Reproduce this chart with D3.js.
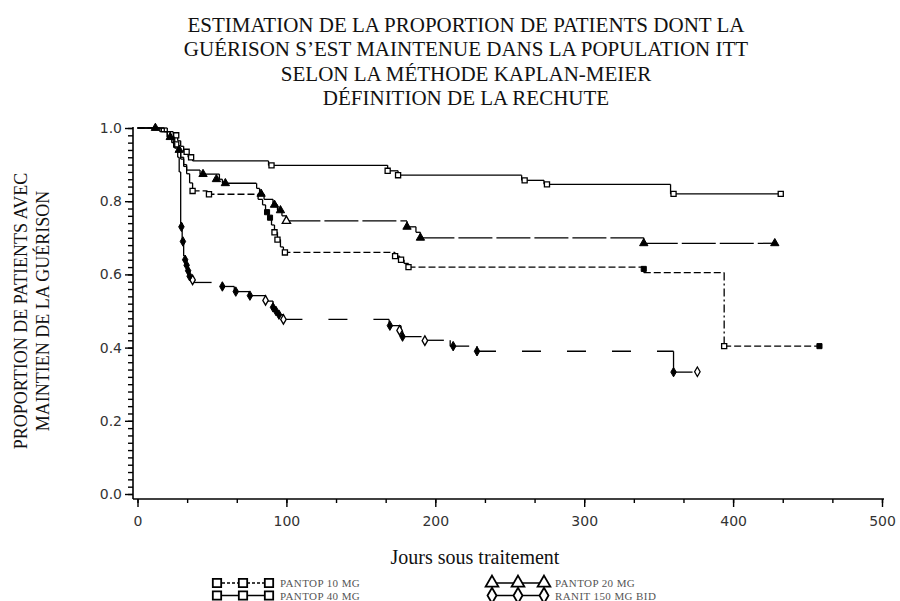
<!DOCTYPE html>
<html>
<head>
<meta charset="utf-8">
<script src="https://cdn.jsdelivr.net/npm/d3@7/dist/d3.min.js"></script>
<style>
  body { margin: 0; background: #fff; }
  text { fill: #111; }
</style>
</head>
<body>
<svg id="chart" width="900" height="601"></svg>
<script>
// Kaplan-Meier steps: day of each step and estimate from that day on (last entry = end of curve)
var pantop40Times = [0, 20, 24, 27, 29, 31, 34, 37, 88, 168, 175, 258, 273, 358, 432];
var pantop40Surv  = [1.0, 0.99, 0.98, 0.965, 0.95, 0.935, 0.92, 0.91, 0.898, 0.883, 0.871, 0.857, 0.846, 0.82, 0.82];
var pantop40Open  = [[26, 0.98], [33, 0.935], [36, 0.92], [90, 0.898], [168, 0.883], [175, 0.871], [260, 0.857], [275, 0.846], [360, 0.82], [432, 0.82]];
var pantop40Fill  = [];

var pantop20Times = [0, 15, 20, 24, 27, 29, 31, 33, 42, 55, 57, 80, 82, 85, 91, 94, 97, 100, 181, 187, 190, 340, 428];
var pantop20Surv  = [1.0, 0.99, 0.975, 0.96, 0.94, 0.92, 0.9, 0.885, 0.874, 0.86, 0.849, 0.835, 0.82, 0.805, 0.79, 0.775, 0.76, 0.746, 0.73, 0.715, 0.7, 0.685, 0.685];
var pantop20Open  = [[100, 0.746]];
var pantop20Fill  = [[12, 1.0], [22, 0.975], [28, 0.94], [44, 0.874], [53, 0.86], [59, 0.849], [83, 0.82], [92, 0.79], [96, 0.775], [181, 0.73], [190, 0.70], [340, 0.685], [428, 0.685]];

var pantop10Times = [0, 18, 22, 25, 27, 29, 31, 33, 35, 37, 47, 81, 84, 86, 88, 90, 92, 94, 96, 98, 173, 176, 179, 182, 340, 394, 458];
var pantop10Surv  = [1.0, 0.99, 0.975, 0.955, 0.935, 0.915, 0.895, 0.875, 0.85, 0.828, 0.819, 0.805, 0.79, 0.77, 0.755, 0.735, 0.715, 0.695, 0.675, 0.66, 0.65, 0.64, 0.63, 0.62, 0.605, 0.404, 0.404];
var pantop10Open  = [[26, 0.955], [37, 0.828], [48, 0.819], [92, 0.715], [94, 0.695], [99, 0.66], [173, 0.65], [177, 0.64], [182, 0.62], [394, 0.404]];
var pantop10Fill  = [[87, 0.77], [89, 0.755], [340, 0.615], [458, 0.404]];

var ranitTimes = [0, 16, 20, 23, 25, 27, 28, 29, 30, 31, 32, 33, 34, 35, 37, 57, 65, 75, 86, 91, 93, 95, 98, 169, 177, 178, 193, 210, 228, 360, 376];
var ranitSurv  = [1.0, 0.99, 0.975, 0.96, 0.945, 0.92, 0.88, 0.74, 0.69, 0.65, 0.635, 0.62, 0.605, 0.59, 0.578, 0.567, 0.553, 0.542, 0.527, 0.51, 0.5, 0.49, 0.477, 0.46, 0.445, 0.43, 0.42, 0.404, 0.39, 0.333, 0.333];
var ranitOpen  = [[37, 0.585], [86, 0.529], [98, 0.477], [176, 0.447], [193, 0.419], [376, 0.334]];
var ranitFill  = [[29.5, 0.73], [30.5, 0.69], [32, 0.64], [33, 0.625], [34, 0.61], [35, 0.595], [57, 0.567], [66, 0.553], [75.5, 0.542], [91, 0.51], [93, 0.5], [95, 0.49], [169.5, 0.46], [178, 0.43], [212, 0.404], [228, 0.39], [360, 0.333]];

var titleLines = ["ESTIMATION DE LA PROPORTION DE PATIENTS DONT LA",
                  "GUÉRISON S\u2019EST MAINTENUE DANS LA POPULATION ITT",
                  "SELON LA MÉTHODE KAPLAN-MEIER",
                  "DÉFINITION DE LA RECHUTE"];
var yTitleLines = ["PROPORTION DE PATIENTS AVEC", "MAINTIEN DE LA GUÉRISON"];
var xTitle = "Jours sous traitement";
var xTicks = [0, 100, 200, 300, 400, 500];
var yTicks = [0, 0.2, 0.4, 0.6, 0.8, 1.0];

var series = [
  {name: "PANTOP 40 MG", times: pantop40Times, surv: pantop40Surv, open: pantop40Open, fill: pantop40Fill, dash: null, symbol: d3.symbolSquare},
  {name: "PANTOP 20 MG", times: pantop20Times, surv: pantop20Surv, open: pantop20Open, fill: pantop20Fill, dash: "34,4", symbol: d3.symbolTriangle},
  {name: "PANTOP 10 MG", times: pantop10Times, surv: pantop10Surv, open: pantop10Open, fill: pantop10Fill, dash: "7,3", symbol: d3.symbolSquare},
  {name: "RANIT 150 MG BID", times: ranitTimes, surv: ranitSurv, open: ranitOpen, fill: ranitFill, dash: "19,26", symbol: d3.symbolDiamond}
];

var svg = d3.select("#chart");
var axisX0 = 133, axisY0 = 499;   // axis lines sit a little outside the data origin

var x = d3.scaleLinear().domain([0, 500]).range([137.5, 882]);
var y = d3.scaleLinear().domain([0, 1]).range([494, 128]);

// title
svg.append("g").selectAll("text")
  .data(titleLines).enter().append("text")
    .attr("x", 466)
    .attr("y", (d, i) => 32 + i * 24.3)
    .attr("text-anchor", "middle")
    .style("font-family", "Liberation Serif, Times New Roman, serif")
    .style("font-size", "21px")
    .text(d => d);

// y axis: minor ticks then major ticks
var yMinor = d3.axisLeft(y).tickValues(d3.range(0, 1.001, 0.02)).tickSize(5).tickFormat("");
var yMajor = d3.axisLeft(y).tickValues(yTicks).tickSize(8).tickPadding(3).tickFormat(d3.format(".1f"));
var gy = svg.append("g").attr("transform", "translate(" + axisX0 + ",0)");
gy.append("g").call(yMinor);
gy.append("g").call(yMajor);
gy.selectAll(".domain").remove();
gy.append("line").attr("x1", 0).attr("x2", 0).attr("y1", y(1) - 1).attr("y2", axisY0)
  .attr("stroke", "#000").attr("stroke-width", 1.6);

// x axis
var xMinor = d3.axisBottom(x).tickValues(d3.range(0, 501, 100 / 3)).tickSize(4).tickFormat("");
var xMajor = d3.axisBottom(x).tickValues(xTicks).tickSize(8).tickPadding(9).tickFormat(d3.format("d"));
var gx = svg.append("g").attr("transform", "translate(0," + axisY0 + ")");
gx.append("g").call(xMinor);
gx.append("g").call(xMajor);
gx.selectAll(".domain").remove();
gx.append("line").attr("x1", axisX0).attr("x2", 884).attr("y1", 0).attr("y2", 0)
  .attr("stroke", "#000").attr("stroke-width", 1.6);

svg.selectAll(".tick line").attr("stroke", "#000").attr("stroke-width", 1.4);
svg.selectAll(".tick text")
  .style("font-family", "DejaVu Sans, Verdana, sans-serif")
  .style("font-size", "14px")
  .style("fill", "#333");

// axis titles
svg.append("g").selectAll("text")
  .data(yTitleLines).enter().append("text")
    .attr("transform", (d, i) => "translate(" + (27 + i * 22) + ",311) rotate(-90)")
    .attr("text-anchor", "middle")
    .style("font-family", "Liberation Serif, Times New Roman, serif")
    .style("font-size", "18px")
    .text(d => d);

svg.append("text")
  .attr("x", 475).attr("y", 564)
  .attr("text-anchor", "middle")
  .style("font-family", "Liberation Serif, Times New Roman, serif")
  .style("font-size", "20px")
  .text(xTitle);

// curves: each horizontal stretch restarts its dash pattern, verticals solid (big drop dash-dot)
var plot = svg.append("g");
series.forEach(function(s) {
  var g = plot.append("g");
  for (var i = 0; i < s.times.length - 1; i++) {
    g.append("line")
      .attr("x1", x(s.times[i])).attr("x2", x(s.times[i + 1]))
      .attr("y1", y(s.surv[i])).attr("y2", y(s.surv[i]))
      .attr("stroke", "#000").attr("stroke-width", 1.3)
      .attr("stroke-dasharray", s.dash);
    if (s.surv[i + 1] !== s.surv[i]) {
      var drop = s.surv[i] - s.surv[i + 1];
      g.append("line")
        .attr("x1", x(s.times[i + 1])).attr("x2", x(s.times[i + 1]))
        .attr("y1", y(s.surv[i])).attr("y2", y(s.surv[i + 1]))
        .attr("stroke", "#000").attr("stroke-width", 1.3)
        .attr("stroke-dasharray", drop > 0.15 ? "8,3,2,3" : null);
    }
  }
  var sym = d3.symbol().type(s.symbol).size(s.symbol === d3.symbolTriangle ? 30 : 26);
  g.selectAll(".open").data(s.open).enter().append("path")
    .attr("transform", d => "translate(" + x(d[0]) + "," + y(d[1]) + ")")
    .attr("d", sym)
    .attr("fill", "#fff").attr("stroke", "#000").attr("stroke-width", 1.3);
  g.selectAll(".fill").data(s.fill).enter().append("path")
    .attr("transform", d => "translate(" + x(d[0]) + "," + y(d[1]) + ")")
    .attr("d", sym)
    .attr("fill", "#000").attr("stroke", "#000").attr("stroke-width", 1);
});

// legend
var legendRows = [
  {x: 217, y: 583, s: series[2], dash: "3,2"},
  {x: 217, y: 595.5, s: series[0], dash: null},
  {x: 492, y: 583, s: series[1], dash: null},
  {x: 492, y: 595.5, s: series[3], dash: null}
];
var legend = svg.append("g");
legendRows.forEach(function(r) {
  legend.append("line")
    .attr("x1", r.x).attr("x2", r.x + 52).attr("y1", r.y).attr("y2", r.y)
    .attr("stroke", "#000").attr("stroke-width", 1.4).attr("stroke-dasharray", r.dash);
  var sym = d3.symbol().type(r.s.symbol).size(70);
  legend.selectAll(null).data([0, 26, 52]).enter().append("path")
    .attr("transform", d => "translate(" + (r.x + d) + "," + r.y + ")")
    .attr("d", sym)
    .attr("fill", "#fff").attr("stroke", "#000").attr("stroke-width", 1.8);
  legend.append("text")
    .attr("x", r.x + 63).attr("y", r.y + 4)
    .style("font-family", "Liberation Serif, Times New Roman, serif")
    .style("font-size", "11px")
    .style("letter-spacing", "0.4px")
    .style("fill", "#555")
    .text(r.s.name);
});
</script>
</body>
</html>
